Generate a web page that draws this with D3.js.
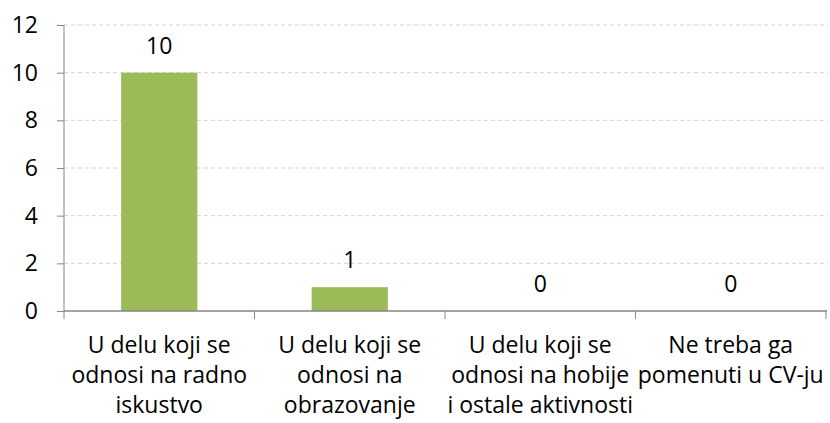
<!DOCTYPE html>
<html>
<head>
<meta charset="utf-8">
<script src="https://cdn.jsdelivr.net/npm/d3@7"></script>
<style>
  body { margin: 0; background: #fff; }
  text { font-family: "Open Sans", sans-serif; fill: #000; }
</style>
</head>
<body>
<svg class="chart" width="830" height="423"></svg>
<script>
const categories = [
  ['U delu koji se', 'odnosi na radno', 'iskustvo'],
  ['U delu koji se', 'odnosi na', 'obrazovanje'],
  ['U delu koji se', 'odnosi na hobije', 'i ostale aktivnosti'],
  ['Ne treba ga', 'pomenuti u CV-ju']
]
const values = [10, 1, 0, 0]
const yTicks = [0, 2, 4, 6, 8, 10, 12]

const svg = d3.select('.chart')
const plotLeft = 64, plotRight = 826, plotTop = 25, plotBottom = 311
const fontSize = '23px'

const x = d3.scaleBand(d3.range(categories.length), [plotLeft, plotRight])
    .paddingInner(0.6)
    .paddingOuter(0.3)
const xTicks = d3.scaleBand(d3.range(categories.length), [plotLeft, plotRight])
const y = d3.scaleLinear([0, 12], [plotBottom, plotTop])

// grid
svg.append('g')
    .selectAll('line')
    .data(yTicks.filter(d => d > 0))
    .join('line')
        .attr('x1', plotLeft)
        .attr('x2', plotRight + 2)
        .attr('y1', d => y(d))
        .attr('y2', d => y(d))
        .attr('stroke', '#d4d4d4')
        .attr('stroke-dasharray', '4,3')
        .attr('stroke-width', 1)

// bars
svg.append('g')
    .selectAll('rect')
    .data(values)
    .join('rect')
        .attr('x', (d, i) => x(i))
        .attr('y', d => y(d))
        .attr('width', x.bandwidth())
        .attr('height', d => y(0) - y(d))
        .attr('fill', '#9bbb59')

// value labels
svg.append('g')
    .selectAll('text')
    .data(values)
    .join('text')
        .attr('x', (d, i) => x(i) + x.bandwidth() / 2)
        .attr('y', d => y(d) - 19)
        .attr('text-anchor', 'middle')
        .attr('font-size', fontSize)
        .text(d => d)

// y axis
const yAxis = svg.append('g')
    .attr('transform', `translate(${plotLeft},0)`)
    .call(d3.axisLeft(y).tickValues(yTicks).tickSize(7).tickPadding(19))
yAxis.selectAll('text').attr('font-size', fontSize).attr('font-family', '"Open Sans", sans-serif').attr('fill', '#000')
yAxis.selectAll('line, path').attr('stroke', '#868686')
yAxis.select('path').attr('d', `M0,${plotTop}V${plotBottom}`)

// x axis
const xAxis = svg.append('g')
    .attr('transform', `translate(0,${plotBottom})`)
xAxis.append('line')
    .attr('x1', plotLeft).attr('x2', plotRight + 1)
    .attr('stroke', '#868686').attr('stroke-width', 1.5)
xAxis.selectAll('.tick')
    .data(d3.range(categories.length + 1))
    .join('line')
        .attr('class', 'tick')
        .attr('x1', i => i < categories.length ? xTicks(i) : xTicks.range()[1])
        .attr('x2', i => i < categories.length ? xTicks(i) : xTicks.range()[1])
        .attr('y1', 0).attr('y2', 8)
        .attr('stroke', '#868686')

// category labels
svg.append('g')
    .selectAll('text')
    .data(categories)
    .join('text')
        .attr('text-anchor', 'middle')
        .attr('font-size', fontSize)
        .attr('x', (d, i) => xTicks(i) + xTicks.bandwidth() / 2)
        .attr('y', 353)
        .selectAll('tspan')
        .data(d => d)
        .join('tspan')
            .attr('x', function() { return this.parentNode.getAttribute('x') })
            .attr('dy', (d, i) => i === 0 ? 0 : 30)
            .text(d => d)
</script>
</body>
</html>
